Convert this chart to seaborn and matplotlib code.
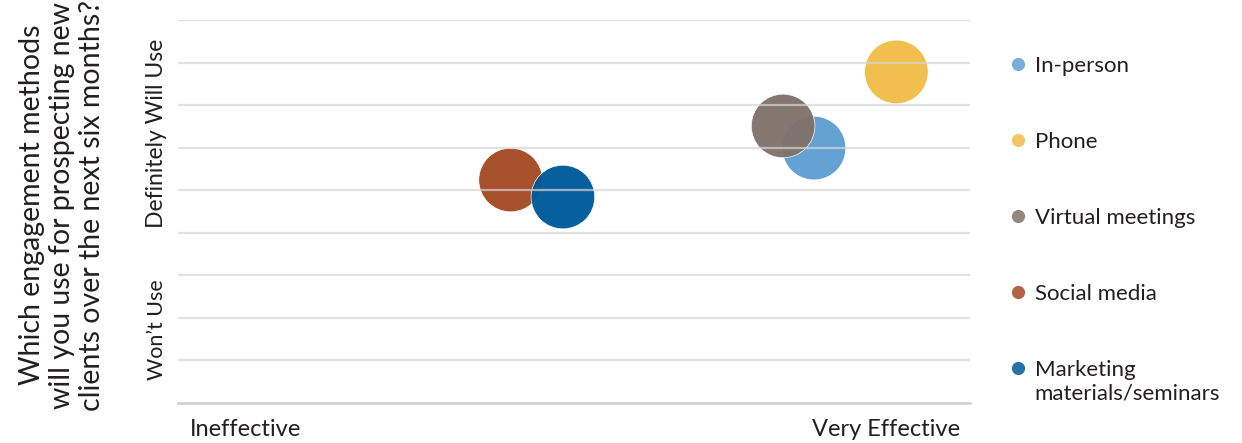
import matplotlib
matplotlib.use("Agg")
import matplotlib.pyplot as plt
from matplotlib.lines import Line2D
import seaborn as sns
import pandas as pd

methods = ["In-person", "Phone", "Virtual meetings", "Social media", "Marketing materials/seminars"]
legend_labels = ["In-person", "Phone", "Virtual meetings", "Social media", "Marketing"]
legend_extra = "materials/seminars"
effectiveness = [8.03, 9.07, 7.64, 4.20, 4.86]
will_use = [5.99, 7.78, 6.51, 5.24, 4.84]
colors = ["#5f9fd2", "#f0bd48", "#7f736a", "#a44a25", "#005a9a"]

y_ticks = list(range(0, 10))
y_labels = ["Won\u2019t Use", "Definitely Will Use"]
y_label_pos = [1.72, 6.34]
x_labels = ["Ineffective", "Very Effective"]
ylabel = "Which engagement methods\nwill you use for prospecting new\nclients over the next six months?"

sns.set_theme(style="white")
plt.rcParams["font.family"] = ["Lato", "DejaVu Sans"]
TXT = "#231f20"

df = pd.DataFrame({"method": methods, "x": effectiveness, "y": will_use})

fig = plt.figure(figsize=(12.42, 4.43), dpi=100)
ax = fig.add_axes([178/1242, 40/443, 792/1242, 383/443])

sns.scatterplot(data=df, x="x", y="y", hue="method", hue_order=methods,
                palette=dict(zip(methods, colors)), s=2100, alpha=0.97,
                edgecolor="white", linewidth=0.5, legend=False, ax=ax, zorder=1)

ax.set_xlim(0, 10)
ax.set_ylim(0, 9)
ax.set_yticks(y_ticks)
ax.set_yticklabels([])
ax.set_xticks([])
ax.set_xlabel("")
ax.set_ylabel("")
ax.set_axisbelow(False)
ax.yaxis.grid(True, color="#d6d6d6", linewidth=1.6, alpha=0.7)
ax.tick_params(axis="y", length=0)
for side in ["top", "right", "left"]:
    ax.spines[side].set_visible(False)
ax.spines["bottom"].set_color("#cfcfcf")
ax.spines["bottom"].set_linewidth(1.8)

y_label_sizes = [15.5, 16.5]
for lab, pos, fs in zip(y_labels, y_label_pos, y_label_sizes):
    ax.text(-0.027, pos, lab, transform=ax.get_yaxis_transform(), rotation=90,
            ha="center", va="center", fontsize=fs, color=TXT)

ax.text(0.015, -0.07, x_labels[0], transform=ax.transAxes, ha="left", va="center",
        fontsize=17, color=TXT)
ax.text(0.987, -0.07, x_labels[1], transform=ax.transAxes, ha="right", va="center",
        fontsize=17, color=TXT)

fig.text(62/1242, 0.537, ylabel, rotation=90, ha="center", va="center",
         fontsize=20.5, color=TXT, linespacing=1.17, multialignment="center")

handles = [Line2D([0], [0], marker="o", linestyle="none", markersize=9.5,
                  markerfacecolor=c, markeredgecolor="none", alpha=0.85) for c in colors]
leg = fig.legend(handles, legend_labels, loc="upper left", bbox_to_anchor=(998/1242, 1 - 47/443),
                 frameon=False, fontsize=16, labelspacing=2.52, handletextpad=0.25,
                 handlelength=1.0, borderaxespad=0)
for t in leg.get_texts():
    t.set_color(TXT)
fig.canvas.draw()
last = leg.get_texts()[-1]
bb = last.get_window_extent()
x0, y0 = fig.transFigure.inverted().transform((bb.x0, bb.y0))
fig.text(x0, y0 - 4/443, legend_extra, ha="left", va="top", fontsize=16, color=TXT)

fig.savefig("out.png", dpi=100)
